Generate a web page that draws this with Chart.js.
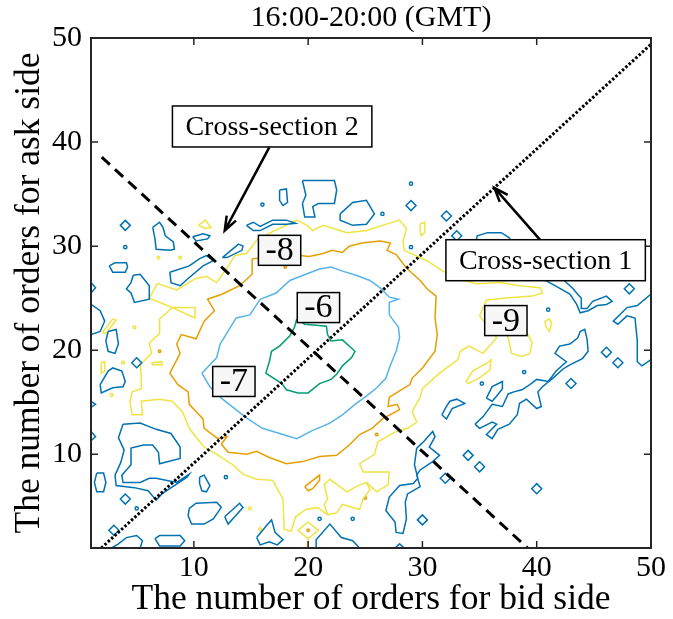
<!DOCTYPE html>
<html>
<head>
<meta charset="utf-8">
<script src="https://cdn.jsdelivr.net/npm/chart.js@4/dist/chart.umd.min.js"></script>
<style>
  html, body { margin: 0; padding: 0; background: #fff; }
  #wrap { width: 673px; height: 619px; }
</style>
</head>
<body>
<div id="wrap"><canvas id="chart" width="673" height="619"></canvas></div>
<script>
// ---- axis ticks and contour levels ----
const tickValues = [10, 20, 30, 40, 50];
const contourLevels = [-10, -9, -8, -7, -6];
const chartTitle = '16:00-20:00 (GMT)';

// ---- contour loops (bid orders, ask orders), one list per level ----
const loopsM6 = [
  [[19.0,23.0],[19.7,22.5],[20.7,22.4],[21.6,22.3],[21.7,21.5],[22.0,20.9],[23.0,21.0],[24.1,19.9],[23.8,19.3],[23.0,18.5],[22.5,17.7],[22.0,17.2],[21.0,16.8],[20.0,15.9],[19.1,15.9],[18.1,16.2],[17.7,16.8],[16.3,17.8],[16.6,18.9],[16.8,19.9],[17.5,20.4],[18.4,21.4],[18.8,22.2]]
];

const loopsM7 = [
  [[10.7,17.8],[12.0,19.3],[12.3,20.6],[13.7,23.1],[14.9,23.4],[15.8,24.9],[17.2,25.5],[18.4,26.7],[19.8,27.3],[21.0,27.8],[22.0,28.0],[23.0,27.6],[24.2,27.2],[25.4,26.7],[26.3,26.0],[27.1,25.1],[27.9,24.9],[27.1,24.6],[27.1,23.4],[27.9,22.2],[28.0,21.2],[27.7,19.9],[27.1,18.3],[26.8,17.3],[26.0,16.4],[25.1,15.6],[24.1,14.8],[23.0,13.8],[21.9,13.0],[20.4,12.3],[19.0,11.5],[17.5,12.0],[16.0,12.5],[14.6,13.5],[13.1,14.8],[12.4,15.4],[11.4,16.5]]
];

const loopsM8 = [
  [[15.1,28.8],[19.3,29.1],[20.1,29.0],[21.3,29.3],[22.1,29.6],[23.0,29.4],[23.6,30.0],[24.7,30.3],[26.3,30.5],[27.2,30.3],[26.9,29.6],[27.7,29.2],[28.6,27.9],[29.8,26.7],[30.4,25.9],[31.2,25.2],[31.1,23.1],[31.3,21.5],[31.1,19.9],[30.0,18.3],[29.1,17.3],[28.9,16.7],[28.0,16.1],[27.1,15.5],[27.0,14.6],[27.8,14.8],[28.0,14.3],[26.5,13.4],[25.6,12.5],[24.5,11.9],[23.6,10.9],[22.5,9.9],[21.0,9.8],[19.5,9.3],[18.1,9.1],[16.6,9.7],[15.5,10.3],[14.6,10.0],[13.0,10.2],[12.4,11.0],[12.9,11.7],[12.1,11.5],[10.9,12.5],[10.8,13.4],[10.2,14.1],[9.6,14.8],[9.5,16.0],[8.6,16.7],[7.9,17.8],[8.8,19.7],[8.5,20.6],[8.9,21.5],[10.2,21.1],[10.9,22.8],[11.8,23.8],[11.2,24.9],[12.5,25.4],[14.0,26.2],[15.1,27.3]],
  [[19.7,6.9],[21.0,8.0],[21.0,7.5],[20.4,6.7],[20.0,6.5]]
];

const loopsM9 = [
  [[15.1,30.0],[15.6,30.7],[19.0,32.5],[19.9,32.0],[20.4,31.5],[21.3,32.0],[23.4,31.3],[25.1,31.5],[26.5,32.0],[28.0,32.5],[28.6,31.7],[28.3,30.5],[28.4,29.6],[30.4,28.6],[31.8,27.6],[33.0,26.9],[34.7,26.4],[36.8,26.5],[38.5,26.2],[40.3,26.0],[40.5,25.5],[39.6,25.2],[37.0,25.0],[35.6,24.8],[35.0,23.3],[36.5,21.2],[35.3,19.7],[34.1,20.4],[33.3,19.9],[33.1,19.1],[31.5,17.8],[30.0,16.3],[29.8,15.5],[29.1,14.1],[29.5,13.1],[28.7,12.5],[27.7,12.2],[26.1,11.2],[25.8,10.0],[24.5,9.1],[24.8,8.3],[27.1,8.3],[27.0,7.1],[26.0,6.4],[25.1,7.3],[24.2,6.9],[23.4,6.4],[21.9,7.6],[21.4,7.1],[21.7,5.7],[21.4,5.2],[21.7,4.2],[20.8,4.9],[19.8,4.7],[18.9,4.0],[18.5,2.6],[17.9,2.8],[17.8,5.7],[16.9,7.5],[15.5,7.6],[14.3,8.1],[13.4,9.0],[12.0,10.0],[10.9,10.7],[10.3,11.5],[9.6,12.5],[9.0,14.1],[8.1,15.1],[7.0,15.3],[5.4,15.1],[5.5,13.8],[4.6,13.8],[4.4,15.1],[4.6,16.0],[5.4,16.3],[5.4,17.6],[5.3,18.6],[6.3,19.7],[6.1,20.7],[7.0,21.6],[7.0,23.0],[8.1,24.1],[6.1,25.0],[6.8,26.4],[8.5,25.8],[10.2,26.9],[11.1,27.1],[12.0,26.5],[12.7,27.6],[13.6,29.1],[14.6,29.3]],
  [[37.2,22.3],[37.5,21.2],[37.8,19.7],[38.7,19.4],[39.4,19.7],[39.6,20.7],[39.2,21.6],[38.5,22.3]],
  [[33.8,17.0],[34.4,18.0],[35.7,18.8],[36.0,19.1],[35.9,18.1],[34.9,17.3],[34.0,16.8]],
  [[40.7,22.8],[41.1,23.0],[41.3,22.6],[41.1,21.8],[40.8,22.3]],
  [[10.4,32.0],[11.0,32.5],[11.5,31.8],[11.0,31.7]],
  [[2.0,21.7],[2.9,23.0],[3.2,22.9],[2.3,21.6]],
  [[1.9,18.8],[2.2,18.9],[2.2,18.0],[1.9,17.8]],
  [[6.3,18.8],[7.2,18.9],[7.2,18.6],[6.4,18.6]],
  [[29.8,32.1],[30.2,32.3],[30.2,31.3],[29.9,31.0],[29.8,31.5]],
  [[8.1,24.1],[10.1,24.1],[10.1,23.1]],
  [[19.1,2.7],[20.0,3.5],[20.9,2.7],[20.0,1.9]]
];
const openM9 = [
  [[21.7,4.2],[22.5,4.4],[23.0,5.2],[23.9,4.9],[24.5,4.7],[24.8,5.7],[25.4,6.6],[25.1,7.3]],
  [[20.0,1.9],[19.9,1.0]]
];

const loopsM10 = [
  [[19.5,36.3],[22.3,36.3],[22.5,35.4],[22.3,34.1],[20.9,34.1],[20.4,33.8],[20.6,32.8],[19.7,32.8],[19.5,34.1],[19.8,34.9]],
  [[17.5,35.4],[18.1,35.5],[18.2,34.2],[17.8,33.9],[17.5,34.4]],
  [[22.8,33.1],[23.9,34.2],[25.1,34.4],[25.8,33.1],[25.1,32.1],[23.9,32.0],[22.8,32.5]],
  [[14.6,32.0],[15.2,32.3],[15.8,31.9],[16.9,32.5],[18.1,32.5],[18.9,32.2],[18.1,32.1],[16.9,32.1],[15.8,31.5],[15.2,31.5]],
  [[6.4,31.8],[7.0,32.3],[7.3,31.8],[7.5,31.0],[8.2,30.4],[8.3,29.7],[7.9,29.6],[6.7,29.7],[6.6,30.7]],
  [[9.9,30.9],[10.8,31.2],[11.4,31.0],[11.2,30.7],[10.2,30.5]],
  [[12.5,28.9],[13.9,30.2],[14.3,30.0],[14.2,29.6],[12.9,28.9]],
  [[2.6,28.1],[3.1,28.4],[4.1,28.4],[4.2,28.0],[4.0,27.5],[2.9,27.5]],
  [[7.9,27.5],[9.6,28.1],[10.5,28.8],[11.1,29.1],[11.7,28.6],[10.8,28.1],[9.4,26.8],[8.8,26.2],[8.0,26.5]],
  [[4.7,27.2],[5.3,27.3],[6.1,26.2],[6.1,24.9],[4.8,24.6],[4.5,25.5],[4.1,25.9],[4.5,26.5]],
  [[2.5,21.8],[3.2,22.0],[3.4,20.6],[3.1,19.7],[2.5,19.9],[2.3,20.9]],
  [[1.8,16.7],[2.5,18.0],[2.9,18.3],[3.7,18.0],[4.0,17.0],[3.8,16.5],[2.9,16.4],[1.9,15.9]],
  [[3.8,12.9],[5.3,13.0],[6.7,12.4],[8.0,12.0],[8.8,10.7],[8.8,9.6],[7.0,9.1],[6.9,10.2],[6.4,10.9],[5.6,10.9],[4.5,10.6],[4.5,9.0],[3.7,8.0],[3.8,7.3],[5.3,7.3],[6.1,7.7],[6.7,7.7],[8.5,7.3],[9.6,8.1],[9.4,7.8],[7.2,6.2],[6.7,5.6],[6.0,6.5],[4.8,6.8],[3.2,7.0],[3.1,8.0],[3.6,9.2],[3.9,10.4],[3.4,11.6]],
  [[1.5,8.2],[2.1,8.2],[2.3,7.3],[2.1,6.4],[1.5,6.4],[1.3,7.3]],
  [[6.6,1.9],[7.0,2.2],[8.8,2.2],[9.2,1.7],[8.8,1.2],[7.0,1.2]],
  [[9.6,4.8],[10.2,5.3],[12.0,5.4],[12.4,4.9],[11.7,3.8],[10.9,3.3],[9.8,3.3],[9.5,4.1]],
  [[10.5,7.8],[10.9,8.0],[11.4,7.0],[11.1,6.4],[10.7,6.5],[10.5,7.2]],
  [[12.7,4.0],[14.0,5.3],[14.3,4.9],[13.0,3.3]],
  [[15.5,2.0],[16.4,3.2],[16.8,3.7],[17.1,2.5],[17.8,1.8],[17.3,1.3],[16.6,1.6],[15.8,1.3]],
  [[29.5,10.6],[30.1,11.2],[30.9,12.2],[31.1,11.7],[30.6,10.7],[31.5,9.9],[30.9,9.3],[29.8,8.5],[29.5,8.0],[29.8,6.9],[28.7,6.2],[28.5,5.4],[28.6,3.8],[28.3,2.4],[27.7,2.5],[27.6,3.5],[26.8,4.6],[27.1,5.9],[28.0,7.0],[29.2,7.2],[29.6,7.7],[29.3,9.0]],
  [[34.6,12.9],[35.3,13.6],[36.1,14.8],[37.0,14.6],[37.5,15.8],[38.0,16.0],[38.7,16.2],[39.4,16.7],[40.0,17.2],[41.0,17.0],[41.7,18.0],[42.4,18.7],[42.6,18.9],[41.6,19.7],[42.0,20.4],[42.9,20.6],[43.6,21.2],[43.8,21.8],[44.2,22.0],[44.4,21.1],[44.5,19.9],[44.0,19.2],[42.9,18.6],[42.3,18.2],[41.4,17.3],[40.5,16.5],[40.1,16.0],[40.4,14.6],[40.0,14.4],[39.1,15.3],[38.5,14.9],[38.3,13.8],[37.6,12.9],[36.6,12.4],[36.1,11.5],[35.6,11.9],[36.5,12.9],[36.1,13.1],[35.0,12.5]],
  [[31.7,13.8],[32.1,14.6],[32.4,15.1],[33.0,15.3],[33.7,14.9],[32.6,14.4],[32.1,13.4]],
  [[35.6,15.4],[36.1,16.5],[37.0,17.0],[37.0,16.3],[36.5,15.6],[36.1,15.1]],
  [[34.7,30.5],[34.8,31.0],[35.7,31.3],[36.9,31.3],[37.6,30.8],[38.0,30.0],[42.0,27.2],[42.4,26.7],[43.1,26.0],[43.9,25.0],[43.9,24.0],[44.4,24.0],[44.9,24.7],[46.1,25.2],[46.6,24.7],[46.1,24.4],[45.3,24.3],[44.5,23.8],[43.8,23.6],[43.5,24.4],[42.9,25.4],[41.6,26.2],[36.8,29.1],[34.7,29.9]]
];
const openM10 = [
  [[1.0,26.5],[1.4,26.0],[1.0,25.5]],
  [[1.0,24.4],[1.8,23.8],[2.2,22.8],[1.8,21.8],[1.0,21.5]],
  [[1.0,15.1],[1.4,14.8],[1.0,14.5]],
  [[1.0,12.2],[1.4,11.7],[1.0,11.3]],
  [[50.0,25.4],[48.8,24.3],[47.9,24.1],[46.7,22.8],[47.1,22.5],[47.9,23.3],[48.6,23.1],[48.8,20.9],[48.8,18.9],[49.2,18.5],[50.0,19.1]],
  [[20.7,1.0],[20.7,1.8],[21.9,3.3],[22.9,2.0],[23.9,1.7],[24.5,1.0]],
  [[2.8,1.0],[3.4,1.4],[4.1,2.0],[5.0,2.2],[5.5,1.7],[5.3,1.0]],
  [[27.6,1.0],[28.0,1.4],[28.4,1.0]]
];

// single-cell loops around one grid point
const diamondsM10 = [[4.0,32.0],[29.0,33.9],[32.1,32.9],[33.0,31.0],[48.1,25.9],[46.1,19.8],[47.1,18.8],[43.0,16.8],[34.0,9.9],[35.0,8.8],[32.0,7.7],[40.0,6.7],[30.0,3.7],[4.0,5.7],[3.0,2.7],[5.0,18.8]];
const dotsM10 = [[16.0,34.0],[4.0,29.9],[29.0,36.0],[29.0,29.9],[26.5,33.1],[38.9,17.9],[35.2,16.8],[41.0,23.9],[5.0,4.8],[23.9,3.8],[21.0,3.8],[12.8,7.8]];
const dotsM9 = [[4.8,22.2],[3.8,18.8],[8.8,28.9],[6.9,28.9],[14.9,4.8],[15.8,2.8],[2.8,15.7]];
const dotsM8 = [[20.0,2.7],[26.0,11.9],[7.0,19.9],[18.0,28.0],[25.0,5.8]];

// cross-section lines
const section1 = [[1.9,1.0],[50.0,49.4]];
const section2 = [[1.94,38.55],[39.2,1.0]];

// inline level labels placed on the contours
const levelLabelSpots = [
  { level: -8, x: 17.5, y: 29.6 },
  { level: -6, x: 20.9, y: 24.1 },
  { level: -7, x: 13.5, y: 17.0 },
  { level: -9, x: 37.3, y: 22.85 }
];

// callouts naming the two cross-sections
const callouts = [
  { text: 'Cross-section 2', x: 16.85, y: 41.5, from: [16.6, 39.5], to: [12.7, 31.5] },
  { text: 'Cross-section 1', x: 40.78, y: 28.65, from: [40.3, 30.6], to: [36.3, 35.6] }
];

const levelColors = { '-10': '#0072B2', '-9': '#F0E442', '-8': '#E69F00', '-7': '#56B4E9', '-6': '#009E73' };
const SERIF = "'Liberation Serif', 'Times New Roman', Times, serif";

const toPts = (pts, closed) => {
  const d = pts.map(([x, y]) => ({ x, y }));
  if (closed) d.push({ x: pts[0][0], y: pts[0][1] });
  return d;
};

const datasets = [];
datasets.push({ data: toPts(section1, false), showLine: true, borderColor: '#000', borderWidth: 3,
  borderDash: [2.5, 2], pointRadius: 0, order: 0 });
datasets.push({ data: toPts(section2, false), showLine: true, borderColor: '#000', borderWidth: 3,
  borderDash: [11, 7], pointRadius: 0, order: 0 });

function addLines(list, level, closed) {
  list.forEach(pts => datasets.push({
    data: toPts(pts, closed), showLine: true, borderColor: levelColors[level],
    borderWidth: 1.5, pointRadius: 0, tension: 0, fill: false, order: 1
  }));
}
function addMarks(list, level, style, radius) {
  datasets.push({
    data: toPts(list, false), showLine: false, pointStyle: style, pointRadius: radius,
    pointHoverRadius: radius, borderColor: levelColors[level], backgroundColor: 'rgba(0,0,0,0)',
    pointBorderWidth: 1.5, order: 1
  });
}
addLines(loopsM10, -10, true);
addLines(openM10, -10, false);
addMarks(diamondsM10, -10, 'rectRot', 5);
addMarks(dotsM10, -10, 'circle', 1.6);
addLines(loopsM9, -9, true);
addLines(openM9, -9, false);
addMarks(dotsM9, -9, 'circle', 1.4);
addLines(loopsM8, -8, true);
addMarks(dotsM8, -8, 'circle', 1.2);
addLines(loopsM7, -7, true);
addLines(loopsM6, -6, true);

const fixedTicks = scale => { scale.ticks = tickValues.map(v => ({ value: v })); };

function drawArrow(ctx, x0, y0, x1, y1) {
  const ang = Math.atan2(y1 - y0, x1 - x0), len = 15, spread = 0.36;
  ctx.beginPath();
  ctx.moveTo(x0, y0); ctx.lineTo(x1, y1);
  ctx.moveTo(x1 - len * Math.cos(ang - spread), y1 - len * Math.sin(ang - spread));
  ctx.lineTo(x1, y1);
  ctx.lineTo(x1 - len * Math.cos(ang + spread), y1 - len * Math.sin(ang + spread));
  ctx.stroke();
}

const axesAndNotes = {
  id: 'axesAndNotes',
  afterDatasetsDraw(chart) {
    const { ctx, chartArea: a, scales: { x, y } } = chart;
    ctx.save();
    // title centred over the plot box
    ctx.fillStyle = '#000';
    ctx.font = '30px ' + SERIF;
    ctx.textAlign = 'center';
    ctx.textBaseline = 'alphabetic';
    ctx.fillText(chartTitle, (a.left + a.right) / 2, 26);

    // inward ticks on all four sides
    ctx.strokeStyle = '#262626';
    ctx.lineWidth = 1.5;
    ctx.beginPath();
    tickValues.forEach(v => {
      const px = x.getPixelForValue(v), py = y.getPixelForValue(v);
      ctx.moveTo(px, a.bottom); ctx.lineTo(px, a.bottom - 7);
      ctx.moveTo(px, a.top); ctx.lineTo(px, a.top + 7);
      ctx.moveTo(a.left, py); ctx.lineTo(a.left + 7, py);
      ctx.moveTo(a.right, py); ctx.lineTo(a.right - 7, py);
    });
    ctx.stroke();
    ctx.lineWidth = 2;
    ctx.strokeRect(a.left, a.top, a.right - a.left, a.bottom - a.top);

    // contour level labels
    ctx.font = '34px ' + SERIF;
    ctx.textBaseline = 'middle';
    levelLabelSpots.forEach(s => {
      const txt = String(s.level);
      const cx = x.getPixelForValue(s.x), cy = y.getPixelForValue(s.y);
      const w = ctx.measureText(txt).width + 14, h = 30;
      ctx.fillStyle = '#f7f7f7';
      ctx.fillRect(cx - w / 2, cy - h / 2, w, h);
      ctx.strokeStyle = '#000'; ctx.lineWidth = 1.5;
      ctx.strokeRect(cx - w / 2, cy - h / 2, w, h);
      ctx.fillStyle = '#000';
      ctx.fillText(txt, cx, cy + 1);
    });

    // callouts with arrows
    ctx.font = '28px ' + SERIF;
    callouts.forEach(c => {
      ctx.strokeStyle = '#000'; ctx.lineWidth = 2.5;
      drawArrow(ctx, x.getPixelForValue(c.from[0]), y.getPixelForValue(c.from[1]),
        x.getPixelForValue(c.to[0]), y.getPixelForValue(c.to[1]));
      const cx = x.getPixelForValue(c.x), cy = y.getPixelForValue(c.y);
      const w = ctx.measureText(c.text).width + 26, h = 41;
      ctx.fillStyle = '#fff';
      ctx.fillRect(cx - w / 2, cy - h / 2, w, h);
      ctx.lineWidth = 1.5;
      ctx.strokeRect(cx - w / 2, cy - h / 2, w, h);
      ctx.fillStyle = '#000';
      ctx.fillText(c.text, cx, cy + 1);
    });
    ctx.restore();
  }
};

new Chart(document.getElementById('chart'), {
  type: 'scatter',
  data: { datasets },
  options: {
    responsive: false,
    devicePixelRatio: 1,
    animation: false,
    events: [],
    layout: { padding: { left: 0, right: 22, top: 38, bottom: 0 } },
    plugins: {
      legend: { display: false },
      tooltip: { enabled: false },
      title: { display: false }
    },
    scales: {
      x: {
        type: 'linear', position: 'bottom', min: 1, max: 50,
        grid: { display: false, drawTicks: false },
        border: { display: false },
        afterBuildTicks: fixedTicks,
        afterFit: s => { s.height = 71; },
        ticks: { color: '#000', padding: 2, maxRotation: 0, autoSkip: false,
          font: { family: SERIF, size: 30 } },
        title: { display: true, text: 'The number of orders for bid side', color: '#000',
          font: { family: SERIF, size: 35.5, lineHeight: 1 }, padding: { top: 0, bottom: 1.5 } }
      },
      y: {
        type: 'linear', position: 'left', min: 1, max: 50,
        grid: { display: false, drawTicks: false },
        border: { display: false },
        afterBuildTicks: fixedTicks,
        afterFit: s => { s.width = 91; },
        ticks: { color: '#000', padding: 9, autoSkip: false,
          font: { family: SERIF, size: 30 } },
        title: { display: true, text: 'The number of orders for ask side', color: '#000',
          font: { family: SERIF, size: 35.5, lineHeight: 1 }, padding: { top: 12, bottom: 0 } }
      }
    }
  },
  plugins: [axesAndNotes]
});
</script>
</body>
</html>
